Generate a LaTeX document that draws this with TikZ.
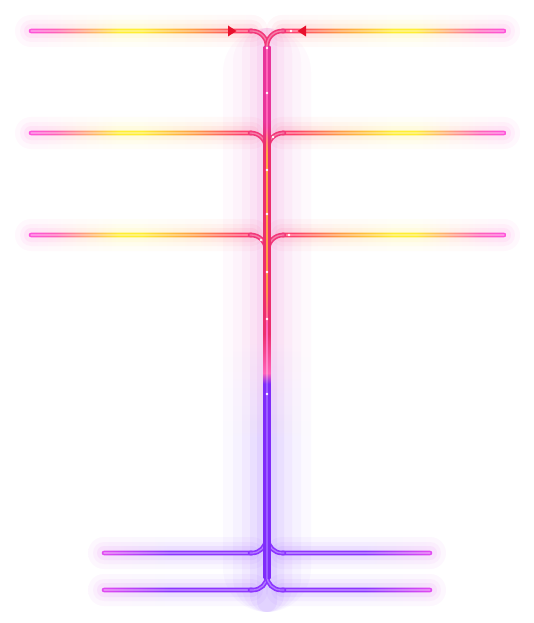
\documentclass[tikz,border=0pt]{standalone}
\definecolor{cMag}{HTML}{FF52DC}
\definecolor{cPink}{HTML}{FF62B8}
\definecolor{cYel}{HTML}{FFEE33}
\definecolor{cOra}{HTML}{FF9A45}
\definecolor{cRed}{HTML}{FF3F6C}
\definecolor{cCurve}{HTML}{F2387A}
\definecolor{tRed}{HTML}{EC2E6E}
\definecolor{tTop}{HTML}{E8349A}
\definecolor{tPur}{HTML}{7F2CFA}
\definecolor{bMag}{HTML}{E24BF2}
\definecolor{bPur}{HTML}{8B34FF}
\definecolor{gPink}{HTML}{EE6FD6}
\definecolor{gPur}{HTML}{9B5CFF}
\definecolor{cArrow}{HTML}{E8112D}
\pgfdeclarehorizontalshading{hl}{100bp}{color(0bp)=(cMag); color(25bp)=(cMag); color(31bp)=(cPink); color(45bp)=(cYel); color(50bp)=(cYel); color(62bp)=(cOra); color(72bp)=(cRed); color(100bp)=(cRed)}
\pgfdeclarehorizontalshading{hr}{100bp}{color(0bp)=(cRed); color(28bp)=(cRed); color(38bp)=(cOra); color(50bp)=(cYel); color(55bp)=(cYel); color(69bp)=(cPink); color(75bp)=(cMag); color(100bp)=(cMag)}
\pgfdeclarehorizontalshading{bl}{100bp}{color(0bp)=(bMag); color(25bp)=(bMag); color(47bp)=(bPur); color(100bp)=(bPur)}
\pgfdeclarehorizontalshading{br}{100bp}{color(0bp)=(bPur); color(53bp)=(bPur); color(75bp)=(bMag); color(100bp)=(bMag)}
\pgfdeclareverticalshading{tr}{100bp}{color(0bp)=(tPur); color(43.3bp)=(tPur); color(44.3bp)=(cPink); color(48bp)=(tRed); color(66bp)=(tRed); color(68bp)=(tTop); color(75bp)=(tTop); color(100bp)=(tTop)}
\pgfdeclareverticalshading{tc}{100bp}{color(0bp)=(gPur); color(43.3bp)=(gPur); color(44.3bp)=(cPink!70!white); color(49bp)=(cPink); color(52bp)=(cOra); color(65bp)=(cOra!80!cYel); color(67.5bp)=(cPink); color(75bp)=(cPink); color(100bp)=(cPink)}
\pgfdeclareverticalshading{tg}{100bp}{color(0bp)=(gPur); color(40bp)=(gPur); color(48bp)=(gPink); color(100bp)=(gPink)}
\tikzset{
  tube/.style={line width=4.6pt, line cap=round},
  shine/.style={white, opacity=0.35, line width=1.3pt, line cap=round},
  spark/.style={fill=white},
  tip/.style={fill=cArrow},
}
\newcommand{\glowH}[4]{%
  \foreach \h/\o in {16/0.04, 11/0.05, 7/0.07}{%
    \shade[shading=#1, opacity=\o, rounded corners=\h pt] (#2-\h, #4-\h) rectangle (#3+\h, #4+\h);
  }}
\newcommand{\lineH}[4]{%
  \shade[shading=#1, rounded corners=2.3pt] (#2-2.3,#4-2.3) rectangle (#3+2.3,#4+2.3);
  \draw[shine] (#2,#4) -- (#3,#4);}
\begin{document}
\begin{tikzpicture}[x=1pt,y=-1pt]
\useasboundingbox[fill=white] (0,0) rectangle (534,623);
% glows
\foreach \w/\o in {44/0.035, 34/0.045, 25/0.055, 17/0.07, 10/0.09}{
  \shade[shading=tg, opacity=\o, rounded corners=\w pt] (267-\w,28) rectangle (267+\w,612);
}
\foreach \y in {31,133,235}{
  \glowH{hl}{31}{252}{\y}
  \glowH{hr}{282}{504}{\y}
}
\foreach \y in {553,590}{
  \glowH{bl}{104}{252}{\y}
  \glowH{br}{282}{430}{\y}
}
% horizontal lines
\foreach \y in {31,133,235}{
  \lineH{hl}{31}{252}{\y}
  \lineH{hr}{282}{504}{\y}
}
\foreach \y in {553,590}{
  \lineH{bl}{104}{252}{\y}
  \lineH{br}{282}{430}{\y}
}
% junction curves
\foreach \p in {
  {(250,31) -- (267,31) -- (267,62)},
  {(284,31) -- (267,31) -- (267,62)},
  {(250,133) -- (266,133) -- (266,160)},
  {(284,133) -- (268,133) -- (268,160)},
  {(250,235) -- (266,235) -- (266,262)},
  {(284,235) -- (268,235) -- (268,262)}}{
  \draw[tube, cCurve, rounded corners=15pt] \p;
  \draw[shine, rounded corners=15pt] \p;
}
\foreach \p in {
  {(266,520) -- (266,553) -- (250,553)},
  {(268,520) -- (268,553) -- (284,553)},
  {(267,555) -- (267,590) -- (250,590)},
  {(267,555) -- (267,590) -- (284,590)}}{
  \draw[tube, bPur, rounded corners=14pt] \p;
  \draw[shine, rounded corners=14pt] \p;
}
% trunk
\shade[shading=tr] (263.5,47) rectangle (270.5,578);
\shade[shading=tc] (266.1,47) rectangle (267.9,578);
% sparks
\foreach \x/\y in {267/48, 291/31, 267/93, 273/137, 267/170, 267/214, 289/235, 261/240, 267/272, 267/319, 267/394}{
  \fill[spark] (\x,\y) circle (1.4);
}
% arrowheads
\fill[tip] (228,25.5) -- (236.5,31) -- (228,36.5) -- cycle;
\fill[tip] (306,25.5) -- (297.5,31) -- (306,36.5) -- cycle;
\end{tikzpicture}
\end{document}
